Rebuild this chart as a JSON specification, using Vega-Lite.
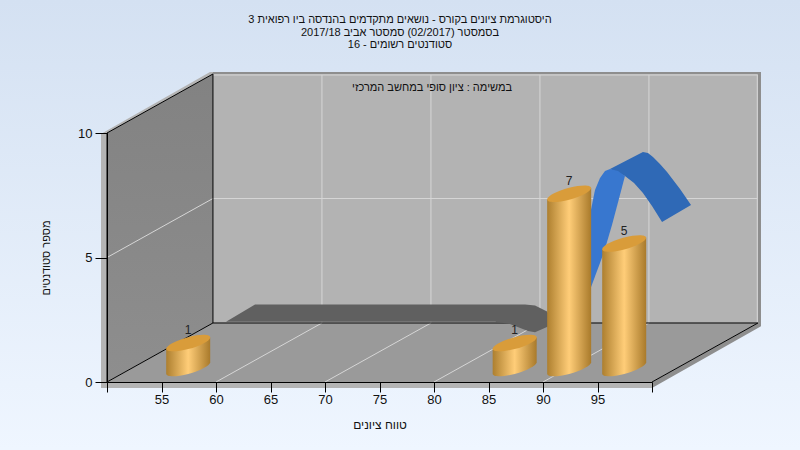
{
"$schema":"https://vega.github.io/schema/vega-lite/v6.json",
"width":545,"height":249,
"autosize":{"type":"none"},
"padding":{"left":107,"top":133,"right":148,"bottom":68},
"background":"#e6effa",
"config":{"view":{"stroke":null},"font":"Liberation Sans"},
"title":{"text":["היסטוגרמת ציונים בקורס - נושאים מתקדמים בהנדסה ביו רפואית 3","בסמסטר  (02/2017)  סמסטר אביב 2017/18","סטודנטים רשומים - 16"],"font":"Liberation Sans","fontSize":11,"fontWeight":"normal","color":"#111111","anchor":"middle","frame":"group","dx":20.5,"offset":-50,"baseline":"top","lineHeight":12.5},
"datasets":{
"bars":[{"bin":57.45,"count":1},{"bin":87.4,"count":1},{"bin":92.4,"count":7},{"bin":97.45,"count":5}],
"frame":[
{"part":"stripL","i":0,"x":49.45,"y":9.96},{"part":"stripL","i":1,"x":50,"y":10.1},{"part":"stripL","i":2,"x":59.45,"y":12.45},{"part":"stripL","i":3,"x":59.72,"y":12.45},{"part":"stripL","i":4,"x":59.72,"y":12.37},{"part":"stripL","i":5,"x":50,"y":10},{"part":"stripL","i":6,"x":50,"y":-0.24},{"part":"stripL","i":7,"x":49.45,"y":-0.24},
{"part":"stripB","i":0,"x":49.45,"y":0},{"part":"stripB","i":1,"x":100,"y":0},{"part":"stripB","i":2,"x":100,"y":-0.24},{"part":"stripB","i":3,"x":49.45,"y":-0.24},
{"part":"shade","i":0,"x":59.72,"y":12.45},{"part":"shade","i":1,"x":110,"y":12.45},{"part":"shade","i":2,"x":110,"y":2.24},{"part":"shade","i":3,"x":100,"y":-0.24},{"part":"shade","i":4,"x":100,"y":0},{"part":"shade","i":5,"x":109.72,"y":2.37},{"part":"shade","i":6,"x":109.72,"y":12.37},{"part":"shade","i":7,"x":59.72,"y":12.37},
{"part":"back","i":0,"x":59.72,"y":2.37},{"part":"back","i":1,"x":109.72,"y":2.37},{"part":"back","i":2,"x":109.72,"y":12.37},{"part":"back","i":3,"x":59.72,"y":12.37},
{"part":"floor","i":0,"x":50,"y":0},{"part":"floor","i":1,"x":100,"y":0},{"part":"floor","i":2,"x":109.72,"y":2.37},{"part":"floor","i":3,"x":59.72,"y":2.37},
{"part":"left","i":0,"x":50,"y":0},{"part":"left","i":1,"x":50,"y":10},{"part":"left","i":2,"x":59.72,"y":12.37},{"part":"left","i":3,"x":59.72,"y":2.37}
],
"grid":[
{"x":69.72,"y":2.37,"x2":69.72,"y2":12.33},{"x":79.72,"y":2.37,"x2":79.72,"y2":12.33},{"x":89.72,"y":2.37,"x2":89.72,"y2":12.33},{"x":99.72,"y":2.37,"x2":99.72,"y2":12.33},{"x":109.66,"y":2.37,"x2":109.66,"y2":12.33},
{"x":59.72,"y":7.37,"x2":109.66,"y2":7.37},{"x":59.72,"y":12.33,"x2":109.66,"y2":12.33},{"x":50,"y":5,"x2":59.72,"y2":7.37},
{"x":60,"y":0,"x2":69.72,"y2":2.37},{"x":70,"y":0,"x2":79.72,"y2":2.37},{"x":80,"y":0,"x2":89.72,"y2":2.37},{"x":90,"y":0,"x2":99.72,"y2":2.37}
],
"edges":[
{"x":50,"y":0,"x2":50,"y2":10},{"x":59.72,"y":2.37,"x2":59.72,"y2":12.37},{"x":50,"y":0,"x2":59.72,"y2":2.37},{"x":50,"y":10,"x2":59.72,"y2":12.37},{"x":59.72,"y":2.37,"x2":109.72,"y2":2.37},{"x":100,"y":0,"x2":109.72,"y2":2.37}
],
"ribbonGray":[
{"i":0,"x":60.92,"y":2.42},{"i":1,"x":63.58,"y":3.11},{"i":2,"x":88.35,"y":3.11},{"i":3,"x":89.27,"y":3.07},{"i":4,"x":90.37,"y":2.83},{"i":5,"x":90.83,"y":2.5},{"i":6,"x":90.83,"y":2.3},{"i":7,"x":89.27,"y":2.0},{"i":8,"x":88.62,"y":2.05},{"i":9,"x":86.97,"y":2.33},{"i":10,"x":85.6,"y":2.42}
],
"ribbonFace":[
{"i":0,"x":94.4,"y":6.91},{"i":1,"x":94.77,"y":7.71},{"i":2,"x":95.23,"y":8.19},{"i":3,"x":95.69,"y":8.47},{"i":4,"x":96.15,"y":8.55},{"i":5,"x":96.88,"y":8.47},{"i":6,"x":97.52,"y":8.27},{"i":7,"x":97.06,"y":7.51},{"i":8,"x":96.33,"y":6.31},{"i":9,"x":95.6,"y":5.22},{"i":10,"x":94.31,"y":3.69}
],
"ribbonTop":[
{"i":0,"x":96.15,"y":8.55},{"i":1,"x":99.17,"y":9.24},{"i":2,"x":99.63,"y":9.2},{"i":3,"x":100.09,"y":9.04},{"i":4,"x":100.73,"y":8.76},{"i":5,"x":101.38,"y":8.43},{"i":6,"x":102.57,"y":7.75},{"i":7,"x":103.58,"y":7.11},{"i":8,"x":100.92,"y":6.43},{"i":9,"x":100.0,"y":7.07},{"i":10,"x":99.17,"y":7.59},{"i":11,"x":98.35,"y":7.99},{"i":12,"x":97.52,"y":8.27}
]
},
"layer":[
{"data":{"values":[{"a":1}]},
 "mark":{"type":"rect","fill":{"x1":0,"y1":0,"x2":0,"y2":1,"gradient":"linear","stops":[{"offset":0,"color":"#d4e1f2"},{"offset":1,"color":"#eff6ff"}]}},
 "encoding":{"x":{"datum":40.18,"type":"quantitative","scale":{"domain":[50,100],"nice":false,"zero":false},"axis":{"values":[50,55,60,65,70,75,80,85,90,95,100],"zindex":1,"grid":false,"title":"טווח ציונים","titleFont":"Liberation Sans","titleFontSize":12,"titleFontWeight":"normal","titleColor":"#111111","titlePadding":13,"labelFont":"Liberation Sans","labelFontSize":13,"labelColor":"#111111","labelPadding":1,"labelExpr":"datum.value==50||datum.value==100?'':datum.label","tickSize":10,"tickColor":"#000000","domainColor":"#000000","labelFlush":false,"labelOverlap":false}},
 "x2":{"datum":113.58},
 "y":{"datum":15.34,"type":"quantitative","scale":{"domain":[0,10],"nice":false,"zero":false},"axis":{"values":[0,5,10],"zindex":1,"grid":false,"title":"מספר סטודנטים","titleFont":"Liberation Sans","titleFontSize":11,"titleFontWeight":"normal","titleColor":"#111111","titlePadding":26,"labelFont":"Liberation Sans","labelFontSize":13,"labelColor":"#111111","labelPadding":3,"tickSize":12,"tickColor":"#000000","domainColor":"#000000"}},
 "y2":{"datum":-2.73}}},
{"data":{"name":"frame"},"transform":[{"filter":"datum.part=='stripL'||datum.part=='stripB'"}],"mark":{"type":"line","fill":"#b4b4b4","stroke":null,"filled":true},"encoding":{"x":{"field":"x","type":"quantitative"},"y":{"field":"y","type":"quantitative"},"order":{"field":"i"},"detail":{"field":"part"}}},
{"data":{"name":"frame"},"transform":[{"filter":"datum.part=='shade'"}],"mark":{"type":"line","fill":"#8e8e8e","stroke":null,"filled":true},"encoding":{"x":{"field":"x","type":"quantitative"},"y":{"field":"y","type":"quantitative"},"order":{"field":"i"}}},
{"data":{"name":"frame"},"transform":[{"filter":"datum.part=='back'"}],"mark":{"type":"line","fill":"#b3b3b3","stroke":null,"filled":true},"encoding":{"x":{"field":"x","type":"quantitative"},"y":{"field":"y","type":"quantitative"},"order":{"field":"i"}}},
{"data":{"name":"frame"},"transform":[{"filter":"datum.part=='floor'"}],"mark":{"type":"line","fill":"#9a9a9a","stroke":null,"filled":true},"encoding":{"x":{"field":"x","type":"quantitative"},"y":{"field":"y","type":"quantitative"},"order":{"field":"i"}}},
{"data":{"name":"frame"},"transform":[{"filter":"datum.part=='left'"}],"mark":{"type":"line","stroke":null,"filled":true,"fill":{"x1":0,"y1":0,"x2":0,"y2":1,"gradient":"linear","stops":[{"offset":0,"color":"#828282"},{"offset":1,"color":"#8e8e8e"}]}},"encoding":{"x":{"field":"x","type":"quantitative"},"y":{"field":"y","type":"quantitative"},"order":{"field":"i"}}},
{"data":{"name":"grid"},"mark":{"type":"rule","color":"#d6d6d6","strokeWidth":1},"encoding":{"x":{"field":"x","type":"quantitative"},"y":{"field":"y","type":"quantitative"},"x2":{"field":"x2"},"y2":{"field":"y2"}}},
{"data":{"name":"edges"},"mark":{"type":"rule","color":"#000000","strokeWidth":1},"encoding":{"x":{"field":"x","type":"quantitative"},"y":{"field":"y","type":"quantitative"},"x2":{"field":"x2"},"y2":{"field":"y2"}}},
{"data":{"name":"ribbonGray"},"mark":{"type":"line","fill":"#606060","stroke":null,"filled":true},"encoding":{"x":{"field":"x","type":"quantitative"},"y":{"field":"y","type":"quantitative"},"order":{"field":"i"}}},
{"data":{"name":"ribbonTop"},"mark":{"type":"line","fill":"#2f69b6","stroke":null,"filled":true},"encoding":{"x":{"field":"x","type":"quantitative"},"y":{"field":"y","type":"quantitative"},"order":{"field":"i"}}},
{"data":{"name":"ribbonFace"},"mark":{"type":"line","fill":"#3877cf","stroke":null,"filled":true},"encoding":{"x":{"field":"x","type":"quantitative"},"y":{"field":"y","type":"quantitative"},"order":{"field":"i"}}},
{"data":{"name":"bars"},"mark":{"type":"point","filled":true,"opacity":1,"size":1936,"yOffset":-14,"strokeWidth":0,"fill":{"x1":0,"y1":0,"x2":1,"y2":0,"gradient":"linear","stops":[{"offset":0,"color":"#ad7f2f"},{"offset":0.5,"color":"#ffcd78"},{"offset":1,"color":"#a97a2b"}]}},
 "encoding":{"x":{"field":"bin","type":"quantitative"},"y":{"datum":0,"type":"quantitative"},
 "shape":{"field":"count","type":"ordinal","legend":null,"scale":{"domain":[1,5,7],"range":[
 "M1,-0.26C1,-0.111,0.5523,0.1264,0,0.27C-0.5523,0.4136,-1,0.409,-1,0.26L-1,-0.872L1,-1.392Z",
 "M1,-0.26C1,-0.111,0.5523,0.1264,0,0.27C-0.5523,0.4136,-1,0.409,-1,0.26L-1,-5.4L1,-5.92Z",
 "M1,-0.26C1,-0.111,0.5523,0.1264,0,0.27C-0.5523,0.4136,-1,0.409,-1,0.26L-1,-7.662L1,-8.182Z"]}}}},
{"data":{"name":"bars"},"mark":{"type":"point","shape":"M1,-0.26C1,-0.111,0.5523,0.1264,0,0.27C-0.5523,0.4136,-1,0.409,-1,0.26C-1,0.111,-0.5523,-0.1264,0,-0.27C0.5523,-0.4136,1,-0.409,1,-0.26Z","filled":true,"opacity":1,"size":1936,"yOffset":-14,"fill":"#d99c3a","strokeWidth":0},
 "encoding":{"x":{"field":"bin","type":"quantitative"},"y":{"field":"count","type":"quantitative"}}},
{"data":{"name":"bars"},"mark":{"type":"text","font":"Liberation Sans","fontSize":12,"color":"#222222","baseline":"middle","yOffset":-27},
 "encoding":{"x":{"field":"bin","type":"quantitative"},"y":{"field":"count","type":"quantitative"},"text":{"field":"count"}}},
{"data":{"values":[{"x":79.82,"y":11.81,"label":"במשימה : ציון סופי במחשב המרכזי"}]},"mark":{"type":"text","font":"Liberation Sans","fontSize":11,"color":"#111111","baseline":"middle"},
 "encoding":{"x":{"field":"x","type":"quantitative"},"y":{"field":"y","type":"quantitative"},"text":{"field":"label"}}}
]
}
